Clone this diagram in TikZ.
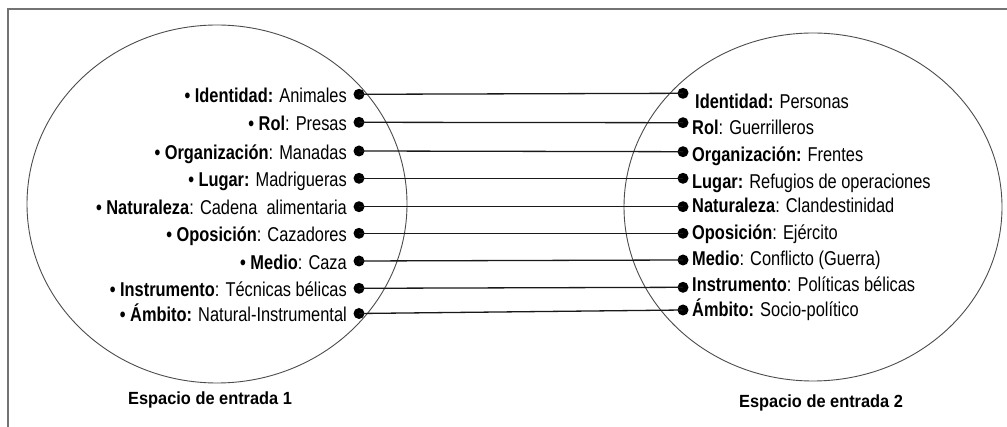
\documentclass[tikz,border=0pt]{standalone}
\usepackage{fontspec}
\setmainfont{Liberation Sans}[FakeStretch=0.82]
\newfontfamily\captionfont{Liberation Sans}[FakeStretch=0.93]
\newcommand{\itemdot}{\textbf{•}\ }
\begin{document}
\begin{tikzpicture}[x=1pt,y=-1pt,
  frameline/.style={draw=black!55,line width=2pt},
  space/.style={draw=black!70,line width=0.9pt},
  dotnode/.style={circle,fill=black,inner sep=0pt,minimum size=11pt},
  link/.style={draw=black!90,line width=1.3pt},
  leftlbl/.style={anchor=base east,inner sep=0pt,text=black,font=\fontsize{20}{24}\selectfont},
  rightlbl/.style={anchor=base west,inner sep=0pt,text=black,font=\fontsize{20}{24}\selectfont},
  caption/.style={anchor=base west,inner sep=0pt,text=black,font=\captionfont\bfseries\fontsize{17.6}{20}\selectfont}]
\useasboundingbox (0,0) rectangle (1007,427);
\fill[white] (0,0) rectangle (1007,427);

% open frame: top and left edges only
\draw[frameline] (8,427) -- (8,9.5) -- (1007,9.5);

% the two input spaces
\draw[space] (217,204) ellipse [x radius=190pt, y radius=179pt];
\draw[space] (813,207) ellipse [x radius=189pt, y radius=174pt];

% anchor dots, input space 1
\node[dotnode] (L1) at (359,94.3) {};
\node[dotnode] (L2) at (359,122.3) {};
\node[dotnode] (L3) at (359,151) {};
\node[dotnode] (L4) at (359,178.3) {};
\node[dotnode] (L5) at (359,206.7) {};
\node[dotnode] (L6) at (359,233.3) {};
\node[dotnode] (L7) at (359,261) {};
\node[dotnode] (L8) at (359,288.3) {};
\node[dotnode] (L9) at (359,313.5) {};

% anchor dots, input space 2
\node[dotnode] (R1) at (683,93.3) {};
\node[dotnode] (R2) at (683,122.7) {};
\node[dotnode] (R3) at (683,151.7) {};
\node[dotnode] (R4) at (683,178.3) {};
\node[dotnode] (R5) at (683,206.7) {};
\node[dotnode] (R6) at (683,233.3) {};
\node[dotnode] (R7) at (683,260) {};
\node[dotnode] (R8) at (683,287.3) {};
\node[dotnode] (R9) at (683,310) {};

% cross-space mappings
\foreach \i in {1,...,9} \draw[link] (L\i.center) -- (R\i.center);

% labels, input space 1
\node[leftlbl] (t1) at (347,102.7) {\itemdot\textbf{Identidad:} Animales};
\node[leftlbl] (t2) at (347,130.6) {\itemdot\textbf{Rol}: Presas};
\node[leftlbl] (t3) at (347,159.3) {\itemdot\textbf{Organización}: Manadas};
\node[leftlbl] (t4) at (347,186.6) {\itemdot\textbf{Lugar:} Madrigueras};
\node[leftlbl] (t5) at (347,215) {\itemdot\textbf{Naturaleza}: Cadena\ \ alimentaria};
\node[leftlbl] (t6) at (347,241.6) {\itemdot\textbf{Oposición}: Cazadores};
\node[leftlbl] (t7) at (347,269.3) {\itemdot\textbf{Medio}: Caza};
\node[leftlbl] (t8) at (347,296.6) {\itemdot\textbf{Instrumento}: Técnicas bélicas};
\node[leftlbl] (t9) at (347,321.8) {\itemdot\textbf{Ámbito:} Natural-Instrumental};

% labels, input space 2
\node[rightlbl] (u1) at (695,108.3) {\textbf{Identidad:} Personas};
\node[rightlbl] (u2) at (692,135) {\textbf{Rol}: Guerrilleros};
\node[rightlbl] (u3) at (692,161.7) {\textbf{Organización:} Frentes};
\node[rightlbl] (u4) at (692,188.3) {\textbf{Lugar:} Refugios de operaciones};
\node[rightlbl] (u5) at (692,212.7) {\textbf{Naturaleza}: Clandestinidad};
\node[rightlbl] (u6) at (692,239.3) {\textbf{Oposición}: Ejército};
\node[rightlbl] (u7) at (692,266) {\textbf{Medio}: Conflicto (Guerra)};
\node[rightlbl] (u8) at (692,291.7) {\textbf{Instrumento}: Políticas bélicas};
\node[rightlbl] (u9) at (692,316.7) {\textbf{Ámbito:} Socio-político};

% space captions
\node[caption] (c1) at (128,405) {Espacio de entrada 1};
\node[caption] (c2) at (739,408) {Espacio de entrada 2};
\end{tikzpicture}
\end{document}
